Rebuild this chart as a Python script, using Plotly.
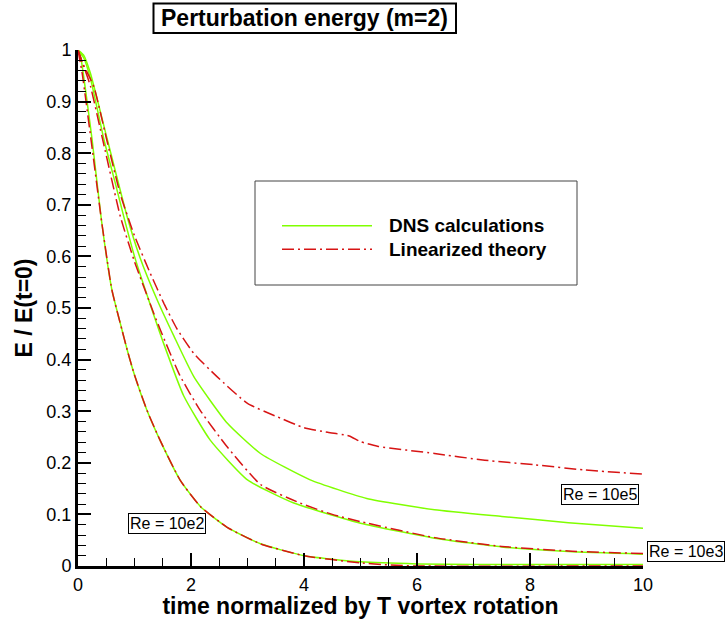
import plotly.graph_objects as go

# ---------------- data ----------------
dns_re2_t = [0, 0.05, 0.13, 0.25, 0.415, 0.6, 0.78, 0.87, 1.0, 1.22, 1.46, 1.81, 2.17, 2.64, 3.23, 4.0, 5.0, 6.0, 7.0, 8.0, 9.0, 10.0]
dns_re2_e = [1.0, 0.985, 0.925, 0.826, 0.67, 0.535, 0.457, 0.419, 0.37, 0.302, 0.242, 0.166, 0.115, 0.075, 0.043, 0.02, 0.008, 0.004, 0.003, 0.003, 0.003, 0.003]

lin_re2_t = [0, 0.074, 0.25, 0.415, 0.6, 0.78, 0.87, 1.0, 1.22, 1.46, 1.81, 2.17, 2.64, 3.23, 4.0, 5.0, 5.5, 6.0, 10.0]
lin_re2_e = [1.0, 0.955, 0.81, 0.67, 0.535, 0.457, 0.419, 0.37, 0.302, 0.242, 0.166, 0.115, 0.075, 0.043, 0.02, 0.006, 0.002, 0.0, 0.0]

dns_re3_t = [0, 0.1, 0.22, 0.46, 0.66, 0.81, 1.0, 1.25, 1.52, 1.87, 2.34, 3.0, 3.82, 5.0, 6.31, 7.5, 8.68, 10.0]
dns_re3_e = [1.0, 0.985, 0.945, 0.826, 0.742, 0.677, 0.60, 0.516, 0.43, 0.33, 0.244, 0.167, 0.122, 0.083, 0.054, 0.037, 0.028, 0.023]

lin_re3_t = [0, 0.08, 0.22, 0.45, 0.75, 1.0, 1.34, 1.46, 1.8, 2.16, 2.64, 3.23, 3.93, 4.5, 5.0, 6.31, 7.5, 8.68, 10.0]
lin_re3_e = [1.0, 0.975, 0.93, 0.82, 0.677, 0.59, 0.49, 0.457, 0.37, 0.302, 0.231, 0.158, 0.122, 0.1, 0.086, 0.055, 0.038, 0.029, 0.024]

dns_re5_t = [0, 0.1, 0.22, 0.52, 0.87, 1.1, 1.4, 1.7, 2.05, 2.64, 3.23, 4.11, 5.11, 6.31, 7.5, 8.68, 10.0]
dns_re5_e = [1.0, 0.99, 0.955, 0.826, 0.677, 0.597, 0.516, 0.445, 0.367, 0.277, 0.218, 0.167, 0.131, 0.109, 0.096, 0.084, 0.073]

lin_re5_t = [0, 0.08, 0.28, 0.5, 0.75, 1.0, 1.28, 1.52, 1.75, 2.05, 2.46, 3.0, 3.53, 4.0, 4.42, 4.8, 5.0, 5.3, 6.31, 7.2, 8.09, 8.97, 10.0]
lin_re5_e = [1.0, 0.975, 0.929, 0.83, 0.72, 0.64, 0.567, 0.509, 0.46, 0.412, 0.367, 0.315, 0.289, 0.268, 0.259, 0.252, 0.241, 0.232, 0.218, 0.205, 0.196, 0.186, 0.178]

re_labels = ["Re = 10e2", "Re = 10e5", "Re = 10e3"]
re_label_t = [1.576, 9.24, 10.755]
re_label_e = [0.0833, 0.139, 0.0277]

x_ticks = [0, 2, 4, 6, 8, 10]
series_names = ["DNS calculations", "Linearized theory"]

GREEN = "rgb(128,255,0)"
RED = "rgb(215,20,20)"
DASH = "12px,4px,2px,4px"
FONT = "Liberation Sans, Arial, Helvetica, sans-serif"

fig = go.Figure()
for t, e in [(dns_re2_t, dns_re2_e), (dns_re3_t, dns_re3_e), (dns_re5_t, dns_re5_e)]:
    fig.add_trace(go.Scatter(x=t, y=e, mode="lines", name=series_names[0], showlegend=False,
                             line=dict(color=GREEN, width=1.5, shape="spline", smoothing=0.5)))
for t, e in [(lin_re2_t, lin_re2_e), (lin_re3_t, lin_re3_e), (lin_re5_t, lin_re5_e)]:
    fig.add_trace(go.Scatter(x=t, y=e, mode="lines", name=series_names[1], showlegend=False,
                             line=dict(color=RED, width=1.5, dash=DASH, shape="spline", smoothing=0.5)))

# plot-area geometry helpers (paper coordinates)
ML, MR, MT, MB = 78, 84, 50, 53
W, H = 727, 619
PW, PH = W - ML - MR, H - MT - MB
X_RANGE = [0, 10]
Y_RANGE = [0, 1]
def px(x):
    return (x - ML) / PW
def py(y):
    return (H - MB - y) / PH
def t2paper(t):
    return (t - X_RANGE[0]) / (X_RANGE[1] - X_RANGE[0])
def e2paper(e):
    return (e - Y_RANGE[0]) / (Y_RANGE[1] - Y_RANGE[0])

shapes = []
annotations = []
# title box
shapes.append(dict(type="rect", xref="paper", yref="paper", x0=px(153.5), x1=px(456), y0=py(33), y1=py(3.5),
                   line=dict(color="black", width=2), fillcolor="white", layer="above"))
annotations.append(dict(xref="paper", yref="paper", x=px(304.5), y=py(18.5), text="<b>Perturbation energy (m=2)</b>",
                        showarrow=False, xanchor="center", yanchor="middle", font=dict(family=FONT, size=23, color="black")))
# legend box
shapes.append(dict(type="rect", xref="paper", yref="paper", x0=px(255), x1=px(577), y0=py(285), y1=py(181),
                   line=dict(color="#444444", width=1), fillcolor="rgba(0,0,0,0)", layer="above"))
shapes.append(dict(type="line", xref="paper", yref="paper", x0=px(282), x1=px(372), y0=py(225.7), y1=py(225.7),
                   line=dict(color=GREEN, width=1.5)))
shapes.append(dict(type="line", xref="paper", yref="paper", x0=px(282), x1=px(372), y0=py(249.3), y1=py(249.3),
                   line=dict(color=RED, width=1.5, dash=DASH)))
for name, yy in zip(series_names, [225.7, 249.3]):
    annotations.append(dict(xref="paper", yref="paper", x=px(387), y=py(yy), text="<b>%s</b>" % name,
                            showarrow=False, xanchor="left", yanchor="middle",
                            font=dict(family=FONT, size=19, color="black")))
# Re labels (paper refs so the one beyond the axis end is still drawn)
for lab, t, e in zip(re_labels, re_label_t, re_label_e):
    annotations.append(dict(x=t2paper(t), y=e2paper(e), xref="paper", yref="paper", text=lab, showarrow=False,
                            xanchor="center", yanchor="middle", font=dict(family=FONT, size=16, color="black"),
                            bordercolor="black", borderwidth=1, borderpad=1, bgcolor="white"))

fig.update_layout(
    width=W, height=H,
    margin=dict(l=ML, r=MR, t=MT, b=MB, autoexpand=False),
    plot_bgcolor="white", paper_bgcolor="white",
    font=dict(family=FONT, color="black"),
    shapes=shapes, annotations=annotations,
    showlegend=False,
)
fig.update_xaxes(
    range=X_RANGE, tickvals=x_ticks, ticks="inside", ticklen=13, tickwidth=2, tickcolor="black",
    showline=True, linewidth=3, linecolor="black", showgrid=False, zeroline=False,
    tickfont=dict(family=FONT, size=18, color="black"),
    minor=dict(dtick=0.5, ticks="inside", ticklen=8, tickwidth=1, tickcolor="black", showgrid=False),
    title=dict(text="<b>time normalized by T vortex rotation</b>", font=dict(family=FONT, size=23, color="black"), standoff=2),
    automargin=False,
)
fig.update_yaxes(
    range=Y_RANGE, dtick=0.1, tick0=0, ticks="inside", ticklen=13, tickwidth=2, tickcolor="black",
    showline=True, linewidth=3, linecolor="black", showgrid=False, zeroline=False,
    tickfont=dict(family=FONT, size=18, color="black"),
    minor=dict(dtick=0.02, ticks="inside", ticklen=8, tickwidth=1, tickcolor="black", showgrid=False),
    title=dict(text="<b>E / E(t=0)</b>", font=dict(family=FONT, size=23, color="black"), standoff=8),
    automargin=False,
)

fig.write_html("out.html", config={"displayModeBar": False},
               post_script="document.body.style.margin='0px';document.body.style.overflow='hidden';")
